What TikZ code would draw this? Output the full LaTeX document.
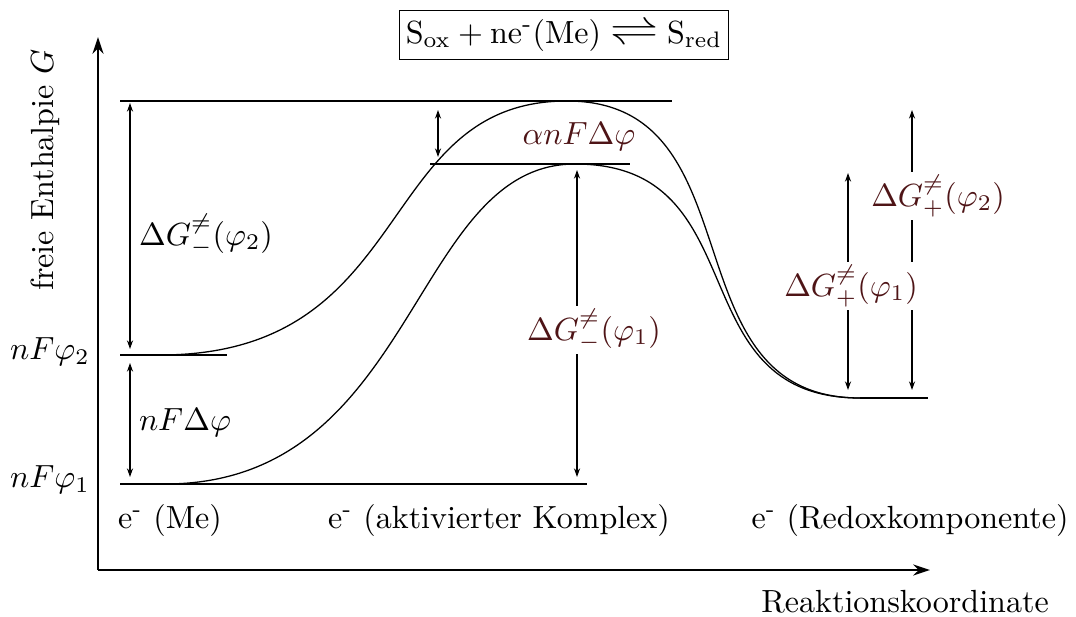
\documentclass[tikz,border=0pt]{standalone}
\usepackage{graphicx}
\usetikzlibrary{arrows.meta}
\definecolor{lblcol}{RGB}{78,20,22}
\newcommand{\longeq}{\mathrel{\scalebox{1.5}[1.15]{$\rightleftharpoons$}}}
\begin{document}
\begin{tikzpicture}[x=0.312pt,y=-0.312pt,
  level/.style={line width=0.4pt},
  curve/.style={line width=0.4pt},
  dim/.style={line width=0.4pt,{Stealth[length=2.7pt,width=1.9pt]}-{Stealth[length=2.7pt,width=1.9pt]}},
  axis/.style={line width=0.7pt,-{Stealth[length=5.2pt,width=3.4pt]}},
  clab/.style={text=lblcol,fill=white,inner sep=1pt},
  blab/.style={inner sep=1pt}]
\useasboundingbox (0,0) rectangle (1076,616);
% axes
\coordinate (O) at (98,570);
\coordinate (Ytop) at (98,37);
\coordinate (Xend) at (930,570);
\draw[axis] (O) -- (Ytop);
\draw[axis] (O) -- (Xend);
\node[rotate=90] (ylab) at (45,170) {freie Enthalpie $G$};
\node (xlab) at (905,602) {Reaktionskoordinate};
% equation box
\node[draw,line width=0.4pt,inner xsep=2pt,inner ysep=2.6pt,font=\fontsize{10.4}{12}\selectfont] (eq) at (564,35)
  {$\mathrm{S_{ox}}+\mathrm{ne}$\textsuperscript{-}$\mathrm{(Me)}\longeq\mathrm{S_{red}}$};
% levels
\coordinate (L2a) at (120,101); \coordinate (L2b) at (672,101);
\coordinate (M1a) at (430,164); \coordinate (M1b) at (630,164);
\coordinate (P2a) at (120,355); \coordinate (P2b) at (227,355);
\coordinate (P1a) at (120,484); \coordinate (P1b) at (587,484);
\coordinate (Ra) at (860,398);  \coordinate (Rb) at (928,398);
\draw[level] (L2a) -- (L2b);
\draw[level] (M1a) -- (M1b);
\draw[level] (P2a) -- (P2b);
\draw[level] (P1a) -- (P1b);
\draw[level] (Ra) -- (Rb);
% curves
\coordinate (U0) at (160,355);
\coordinate (Up) at (567,101);
\coordinate (D0) at (165,484);
\coordinate (Dp) at (575,164);
\draw[curve] (U0) .. controls (418,355) and (373,101) .. (Up)
  .. controls (760,101) and (665,398) .. (Ra);
\draw[curve] (D0) .. controls (417,484) and (411,164) .. (Dp)
  .. controls (760,164) and (676,398) .. (Ra);
% level labels
\node (lp2) at (50,352) {$nF\varphi_2$};
\node (lp1) at (50,480) {$nF\varphi_1$};
% dimension arrows
\coordinate (A1t) at (130,103); \coordinate (A1b) at (130,349);
\coordinate (A2t) at (130,363); \coordinate (A2b) at (130,477);
\coordinate (A3t) at (438,110); \coordinate (A3b) at (438,157);
\coordinate (A4t) at (577,170); \coordinate (A4b) at (577,477);
\coordinate (A5t) at (848,173); \coordinate (A5b) at (848,390);
\coordinate (A6t) at (912,110); \coordinate (A6b) at (912,390);
\draw[dim] (A1t) -- (A1b);
\draw[dim] (A2t) -- (A2b);
\draw[dim] (A3t) -- (A3b);
\draw[dim] (A4t) -- (A4b);
\draw[dim] (A5t) -- (A5b);
\draw[dim] (A6t) -- (A6b);
\node[blab] (g2m) at (206,235) {$\Delta G^{\neq}_{-}(\varphi_2)$};
\node[blab] (dphi) at (185,423) {$nF\Delta\varphi$};
\node[clab,fill=none] (anf) at (579,137) {$\alpha nF\Delta\varphi$};
\node[clab] (g1m) at (594,330) {$\Delta G^{\neq}_{-}(\varphi_1)$};
\node[clab] (g1p) at (851,286) {$\Delta G^{\neq}_{+}(\varphi_1)$};
\node[clab] (g2p) at (938,196) {$\Delta G^{\neq}_{+}(\varphi_2)$};
% bottom labels
\node (eme) at (170,520) {e\textsuperscript{-} (Me)};
\node (eak) at (499,520) {e\textsuperscript{-} (aktivierter Komplex)};
\node (ered) at (910,520) {e\textsuperscript{-} (Redoxkomponente)};
\end{tikzpicture}
\end{document}
